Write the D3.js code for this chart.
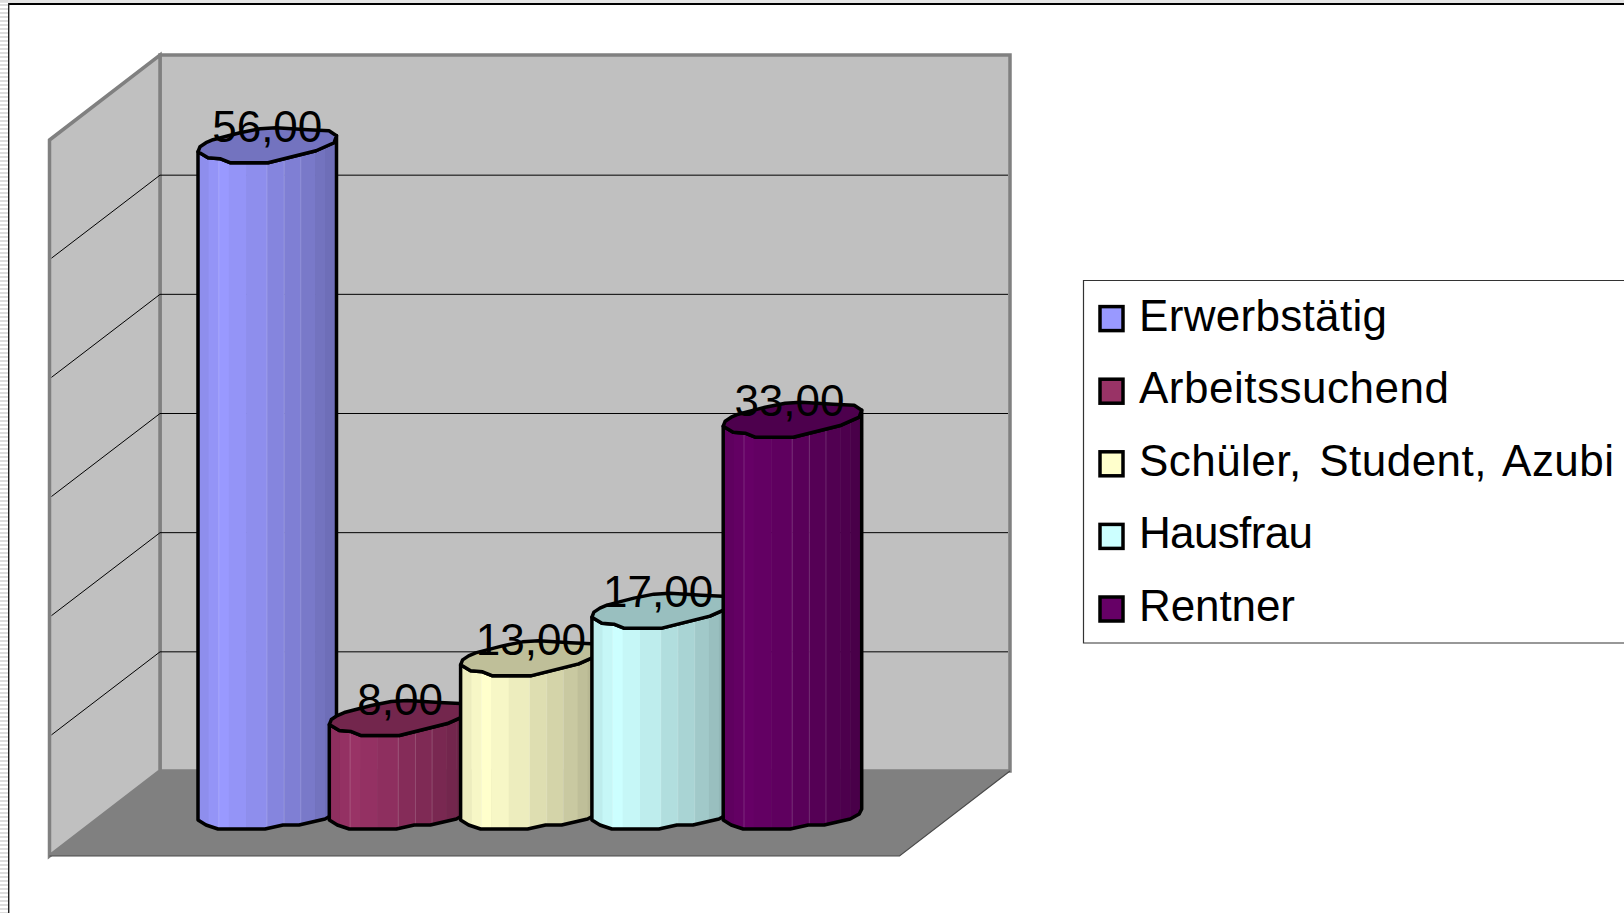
<!DOCTYPE html>
<html><head><meta charset="utf-8">
<script src="https://cdn.jsdelivr.net/npm/d3@7"></script>
<style>html,body{margin:0;padding:0;background:#fff;overflow:hidden}svg{display:block}text{font-family:"Liberation Sans",Arial,sans-serif;fill:#000}</style>
</head><body>
<script>
const categories = ["Erwerbstätig","Arbeitssuchend","Schüler, Student, Azubi","Hausfrau","Rentner"];
const values = [56,8,13,17,33];
const valueLabels = ["56,00","8,00","13,00","17,00","33,00"];
const colors = ["#9999FF","#993366","#FFFFCC","#CCFFFF","#660066"];
const gridTicks = [10,20,30,40,50];
const labelNudge = [0,1.5,1,-3,-3];
const legendTextWidths = [248,310,475,174,156];

const W=1624,H=913;
const wall={x0:160,x1:1010,top:55,bottom:771,dx:-110.5,dy:85,gridDy:83};
const yWall=d3.scaleLinear().domain([0,60]).range([wall.bottom,56]);
const yFront=d3.scaleLinear().domain([0,60]).range([831,115]);
const x=d3.scaleBand().domain(categories).range([198,198+131.3*5]);
const barW=138.5;

const svg=d3.select("body").append("svg").attr("width",W).attr("height",H);
const defs=svg.append("defs");
const pat=defs.append("pattern").attr("id","stripes").attr("width",8).attr("height",4).attr("patternUnits","userSpaceOnUse");
pat.append("rect").attr("width",8).attr("height",2).attr("fill","#dcdcdc");

// page frame
svg.append("rect").attr("x",0).attr("y",0).attr("width",W).attr("height",3).attr("fill","#e4e4e4");
svg.append("rect").attr("x",0).attr("y",0).attr("width",8).attr("height",H).attr("fill","url(#stripes)");
svg.append("rect").attr("x",8).attr("y",3).attr("width",W-8).attr("height",2).attr("fill","#000");
svg.append("rect").attr("x",8).attr("y",3).attr("width",1.4).attr("height",H).attr("fill","#222");

const line=d3.line();
const poly=(pts,fill,stroke,sw)=>svg.append("path").attr("d",line(pts)+"Z").attr("fill",fill).attr("stroke",stroke||"none").attr("stroke-width",sw||0).attr("stroke-linejoin","miter");

// walls
poly([[wall.x0,wall.top],[wall.x1,wall.top],[wall.x1,wall.bottom],[wall.x0,wall.bottom]],"#C0C0C0","#808080",3.5);
poly([[wall.x0+wall.dx,wall.top+wall.dy],[wall.x0,wall.top],[wall.x0,wall.bottom],[wall.x0+wall.dx,wall.bottom+wall.dy]],"#C0C0C0","#808080",3.5);
// grid
const grid=svg.append("g").attr("stroke","#000").attr("stroke-width",1).attr("fill","none");
grid.selectAll("path").data(gridTicks).join("path")
  .attr("d",t=>line([[wall.x0+wall.dx+2,yWall(t)+wall.gridDy],[wall.x0,yWall(t)],[wall.x1-2,yWall(t)]]));
// floor
poly([[wall.x0+wall.dx,wall.bottom+wall.dy],[wall.x0,wall.bottom],[wall.x1,wall.bottom],[wall.x1+wall.dx,wall.bottom+wall.dy]],"#808080");
svg.append("path").attr("d",line([[wall.x0+wall.dx,wall.bottom+wall.dy],[wall.x1+wall.dx,wall.bottom+wall.dy],[wall.x1,wall.bottom]]))
  .attr("fill","none").attr("stroke","#4a4a4a").attr("stroke-width",1.2);

// cylinder outline (relative to bar's left edge and front low point)
const topBack=[[0,-11],[2,-16],[8,-20],[15,-23],[42,-30],[62,-34],[78,-35],[110,-33],[131,-32],[138.5,-27]];
const topFront=[[138.5,-27],[136,-20],[118,-12],[70,0],[32,0],[22,-4],[10,-5],[0,-11]];
const bottomEdge=[[138.5,-22],[136,-17],[127,-12],[101,-6],[85,-6],[67,-2],[20,-2],[8,-6],[0,-11]];
const bandEdges=[0,.077,.15,.222,.347,.498,.622,.742,.845,.917,1];
const bandShade=[.93,.97,1,.97,.93,.87,.83,.79,.75,.72];
const lightLines=[.15,.498,.622,.742];

const marks=svg.append("g");
categories.forEach((c,i)=>{
  const g=marks.append("g").attr("transform",`translate(${x(c)},${yFront(values[i])})`);
  const h=yFront(0)-yFront(values[i]);
  const bodyPts=[...topFront.slice().reverse(),...bottomEdge.map(p=>[p[0],p[1]+h])];
  const d=line(bodyPts)+"Z";
  const id="clip"+i;
  defs.append("clipPath").attr("id",id).append("path").attr("d",d);
  const col=d3.rgb(colors[i]);
  const sh=k=>d3.rgb(col.r*k,col.g*k,col.b*k).formatHex();
  const b=g.append("g").attr("clip-path",`url(#${id})`);
  b.selectAll("rect").data(bandShade).join("rect")
    .attr("x",(k,j)=>bandEdges[j]*barW).attr("width",(k,j)=>(bandEdges[j+1]-bandEdges[j])*barW+.5)
    .attr("y",-40).attr("height",h+40).attr("fill",k=>sh(k));
  b.selectAll("line").data(lightLines).join("line")
    .attr("x1",f=>f*barW).attr("x2",f=>f*barW).attr("y1",-40).attr("y2",h)
    .attr("stroke","#fff").attr("stroke-opacity",.16).attr("stroke-width",1);
  g.append("path").attr("d",d).attr("fill","none").attr("stroke","#000").attr("stroke-width",3.5).attr("stroke-linejoin","round");
  g.append("path").attr("d",line([...topBack,...topFront.slice(1)])+"Z").attr("fill",sh(.75)).attr("stroke","#000").attr("stroke-width",3.5).attr("stroke-linejoin","round");
});
// labels
svg.append("g").selectAll("text").data(categories).join("text")
  .attr("x",(c,i)=>x(c)+barW/2+labelNudge[i]).attr("y",(c,i)=>yFront(values[i])-21)
  .attr("text-anchor","middle").attr("font-size",44)
  .text((c,i)=>valueLabels[i]);

// legend
svg.append("path").attr("d",line([[W+2,280.5],[1083.5,280.5],[1083.5,643],[W+2,643]])).attr("fill","none").attr("stroke","#333").attr("stroke-width",1.2);
const ly=d3.scalePoint().domain(categories).range([318.6,318.6+72.6*4]);
const leg=svg.append("g").selectAll("g").data(categories).join("g").attr("transform",c=>`translate(0,${ly(c)})`);
leg.append("rect").attr("x",1100).attr("y",-12).attr("width",23).attr("height",24)
  .attr("fill",(c,i)=>colors[i]).attr("stroke","#000").attr("stroke-width",3.5);
leg.append("text").attr("x",1139).attr("y",12).attr("font-size",44).attr("word-spacing",c=>c.includes(" ")?5:0)
  .attr("textLength",(c,i)=>legendTextWidths[i]).attr("lengthAdjust","spacing").text(c=>c);
</script>
</body></html>
